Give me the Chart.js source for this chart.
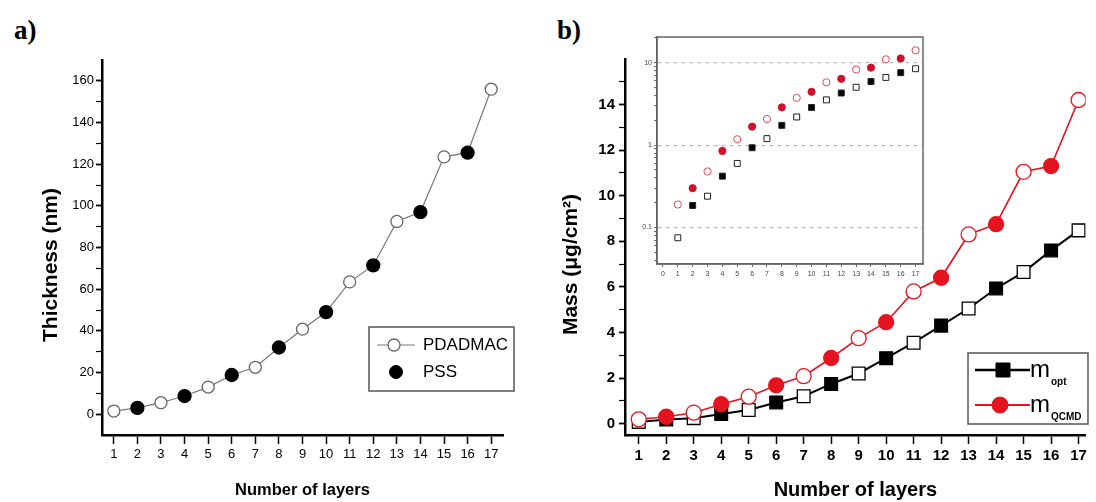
<!DOCTYPE html>
<html>
<head>
<meta charset="utf-8">
<script src="https://cdn.jsdelivr.net/npm/chart.js@4.4.1/dist/chart.umd.min.js"></script>
<style>
  html, body { margin: 0; padding: 0; background: #fff; overflow: hidden; }
  #wrap { position: relative; width: 1096px; height: 502px; }
  canvas { position: absolute; }
  .panel { position: absolute; font: bold 27px "Liberation Serif", "Times New Roman", serif; }
</style>
</head>
<body>
<div id="wrap">
  <div class="panel" style="left:14px; top:15px;">a)</div>
  <div class="panel" style="left:557px; top:15px;">b)</div>
  <canvas id="chartA" width="540" height="502" style="left:0; top:0;"></canvas>
  <canvas id="chartB" width="556" height="502" style="left:540px; top:0;"></canvas>
  <canvas id="chartInset" width="300" height="265" style="left:630px; top:25px;"></canvas>
</div>
<script>
// data
const layers = [1, 2, 3, 4, 5, 6, 7, 8, 9, 10, 11, 12, 13, 14, 15, 16, 17];
const thickness = [1.5, 3, 5.5, 8.7, 13, 18.8, 22.5, 32, 40.8, 49, 63.5, 71.4, 92.5, 97, 123.5, 125.5, 156];
const mOpt = [0.075, 0.185, 0.24, 0.42, 0.6, 0.93, 1.2, 1.74, 2.2, 2.87, 3.55, 4.3, 5.05, 5.93, 6.65, 7.6, 8.48];
const mQcmd = [0.19, 0.3, 0.48, 0.85, 1.18, 1.68, 2.08, 2.88, 3.75, 4.45, 5.8, 6.4, 8.3, 8.75, 11.05, 11.3, 14.2];

// tick values
const thicknessTicks = [0, 10, 20, 30, 40, 50, 60, 70, 80, 90, 100, 110, 120, 130, 140, 150, 160];
const massTicks = [0, 1, 2, 3, 4, 5, 6, 7, 8, 9, 10, 11, 12, 13, 14, 15];
const insetXTicks = [0, 1, 2, 3, 4, 5, 6, 7, 8, 9, 10, 11, 12, 13, 14, 15, 16, 17];
const insetYLabels = [0.1, 1, 10];

const SANS = '"Liberation Sans", Arial, sans-serif';
const RED = '#e5131f';

Chart.defaults.color = '#000';
Chart.defaults.font.family = SANS;

const isOdd = ctx => layers[ctx.dataIndex] % 2 === 1;
const toPoints = values => layers.map((x, i) => ({ x: x, y: values[i] }));

// minor ticks for the log inset: 1..9 x 10^n inside the axis range
const insetYTicks = [];
for (let d = -2; d <= 1; d++) {
  for (let m = 1; m <= 9; m++) {
    const v = +(m * Math.pow(10, d)).toPrecision(2);
    if (v >= 0.04 && v <= 20) insetYTicks.push(v);
  }
}

function drawMarker(ctx, mk, x, y) {
  ctx.save();
  ctx.fillStyle = mk.fill;
  ctx.strokeStyle = mk.stroke;
  ctx.lineWidth = mk.width;
  ctx.beginPath();
  if (mk.style === 'rect') {
    ctx.rect(x - mk.size / 2, y - mk.size / 2, mk.size, mk.size);
  } else {
    ctx.arc(x, y, mk.size / 2, 0, Math.PI * 2);
  }
  ctx.fill();
  ctx.stroke();
  ctx.restore();
}

// framed legend drawn on the canvas
const boxLegend = {
  id: 'boxLegend',
  afterDraw(chart, args, opts) {
    if (!opts.items) return;
    const ctx = chart.ctx;
    const b = opts.box;
    ctx.save();
    ctx.strokeStyle = opts.borderColor;
    ctx.lineWidth = opts.borderWidth;
    ctx.strokeRect(b[0], b[1], b[2], b[3]);
    opts.items.forEach(item => {
      if (item.line) {
        ctx.strokeStyle = item.lineColor;
        ctx.lineWidth = item.lineWidth;
        ctx.beginPath();
        ctx.moveTo(item.line[0], item.y);
        ctx.lineTo(item.line[1], item.y);
        ctx.stroke();
      }
      drawMarker(ctx, item.marker, item.mx, item.y);
      ctx.fillStyle = '#000';
      ctx.font = opts.font;
      ctx.textBaseline = 'middle';
      ctx.textAlign = 'left';
      ctx.fillText(item.text, opts.textX, item.y);
      if (item.sub) {
        const w = ctx.measureText(item.text).width;
        ctx.font = opts.subFont;
        ctx.fillText(item.sub, opts.textX + w + 1, item.y + 12);
      }
    });
    ctx.restore();
  }
};

// full box around the plot area (inset)
const frame = {
  id: 'frame',
  afterDraw(chart, args, opts) {
    if (!opts.color) return;
    const a = chart.chartArea;
    const ctx = chart.ctx;
    ctx.save();
    ctx.strokeStyle = opts.color;
    ctx.lineWidth = opts.width;
    ctx.strokeRect(a.left, a.top, a.right - a.left, a.bottom - a.top);
    ctx.restore();
  }
};

// a) thickness
new Chart(document.getElementById('chartA'), {
  type: 'line',
  data: {
    datasets: [{
      label: 'Thickness',
      data: toPoints(thickness),
      borderColor: '#777',
      borderWidth: 1.2,
      pointRadius: ctx => isOdd(ctx) ? 6 : 6.5,
      pointBackgroundColor: ctx => isOdd(ctx) ? '#fff' : '#000',
      pointBorderColor: ctx => isOdd(ctx) ? '#666' : '#000',
      pointBorderWidth: 1.3
    }]
  },
  options: {
    responsive: false,
    animation: false,
    layout: { padding: { left: 0, top: 60, right: 37, bottom: 0 } },
    plugins: {
      legend: { display: false },
      tooltip: { enabled: false },
      boxLegend: {
        box: [369, 327, 145, 64],
        borderColor: '#555',
        borderWidth: 1.5,
        font: '17px ' + SANS,
        textX: 423,
        items: [
          { text: 'PDADMAC', y: 345, line: [377, 415], lineColor: '#777', lineWidth: 1.2, mx: 394,
            marker: { style: 'circle', size: 12, fill: '#fff', stroke: '#666', width: 1.3 } },
          { text: 'PSS', y: 372, mx: 396,
            marker: { style: 'circle', size: 13, fill: '#000', stroke: '#000', width: 1 } }
        ]
      }
    },
    scales: {
      x: {
        type: 'linear',
        min: 0.5,
        max: 17.5,
        afterBuildTicks: s => { s.ticks = layers.map(v => ({ value: v })); },
        afterFit: s => { s.height = 67; },
        grid: { drawOnChartArea: false, color: '#000', tickLength: 9, tickWidth: 1.5 },
        border: { color: '#000', width: 2.5 },
        ticks: { autoSkip: false, maxRotation: 0, padding: 3, font: { size: 13 } },
        title: { display: true, text: 'Number of layers', padding: 2,
                 font: { size: 16.5, weight: 'bold' } }
      },
      y: {
        type: 'linear',
        min: -10,
        max: 170,
        afterBuildTicks: s => { s.ticks = thicknessTicks.map(v => ({ value: v })); },
        afterFit: s => { s.width = 102; },
        grid: { drawOnChartArea: false, color: '#000', tickLength: 6,
                tickWidth: ctx => ctx.tick && ctx.tick.value % 20 === 0 ? 1.8 : 1.2 },
        border: { color: '#000', width: 2.5 },
        ticks: { autoSkip: false, padding: 2, font: { size: 13 },
                 callback: v => v % 20 === 0 ? String(v) : '' },
        // trailing spaces push the centred title down, as in the original
        title: { display: true, text: 'Thickness (nm)      ', padding: 39,
                 font: { size: 21, weight: 'bold' } }
      }
    }
  },
  plugins: [boxLegend]
});

// b) mass
new Chart(document.getElementById('chartB'), {
  type: 'line',
  data: {
    datasets: [{
      label: 'm_opt',
      order: 1,
      data: toPoints(mOpt),
      borderColor: '#000',
      borderWidth: 2,
      pointStyle: 'rect',
      pointRadius: 9,
      pointBackgroundColor: ctx => isOdd(ctx) ? '#fff' : '#000',
      pointBorderColor: '#000',
      pointBorderWidth: 1.3
    }, {
      label: 'm_QCMD',
      order: 0,
      data: toPoints(mQcmd),
      borderColor: RED,
      borderWidth: 1.6,
      pointStyle: 'circle',
      pointRadius: 7.5,
      pointBackgroundColor: ctx => isOdd(ctx) ? '#fff' : RED,
      pointBorderColor: RED,
      pointBorderWidth: 1.3
    }]
  },
  options: {
    responsive: false,
    animation: false,
    layout: { padding: { left: 0, top: 59, right: 0, bottom: 0 } },
    plugins: {
      legend: { display: false },
      tooltip: { enabled: false },
      boxLegend: {
        box: [428, 353, 120, 71],
        borderColor: '#555',
        borderWidth: 1.5,
        font: '24px ' + SANS,
        subFont: 'bold 10px ' + SANS,
        textX: 490,
        items: [
          { text: 'm', sub: 'opt', y: 370, line: [435, 490], lineColor: '#000', lineWidth: 2.5, mx: 463,
            marker: { style: 'rect', size: 14, fill: '#000', stroke: '#000', width: 1 } },
          { text: 'm', sub: 'QCMD', y: 405, line: [435, 490], lineColor: RED, lineWidth: 1.8, mx: 460,
            marker: { style: 'circle', size: 16, fill: RED, stroke: RED, width: 1 } }
        ]
      }
    },
    scales: {
      x: {
        type: 'linear',
        min: 0.5,
        max: 17.26,
        afterBuildTicks: s => { s.ticks = layers.map(v => ({ value: v })); },
        afterFit: s => { s.height = 67; },
        grid: { drawOnChartArea: false, color: '#000', tickLength: 9, tickWidth: 1.5 },
        border: { color: '#000', width: 2.5 },
        ticks: { autoSkip: false, maxRotation: 0, padding: 3, font: { size: 15, weight: 'bold' } },
        title: { display: true, text: 'Number of layers', padding: 0,
                 font: { size: 20, weight: 'bold' } }
      },
      y: {
        type: 'linear',
        min: -0.5,
        max: 16,
        afterBuildTicks: s => { s.ticks = massTicks.map(v => ({ value: v })); },
        afterFit: s => { s.width = 85; },
        grid: { drawOnChartArea: false, color: '#000', tickLength: 6,
                tickWidth: ctx => ctx.tick && ctx.tick.value % 2 === 0 ? 1.8 : 1.2 },
        border: { color: '#000', width: 2.5 },
        ticks: { autoSkip: false, padding: 4, font: { size: 15, weight: 'bold' },
                 callback: v => v % 2 === 0 ? String(v) : '' },
        title: { display: true, text: 'Mass (\u03bcg/cm\u00b2)      ', padding: 19,
                 font: { size: 21, weight: 'bold' } }
      }
    }
  },
  plugins: [boxLegend]
});

// b) inset, log scale
new Chart(document.getElementById('chartInset'), {
  type: 'line',
  data: {
    datasets: [{
      label: 'm_opt',
      order: 1,
      data: toPoints(mOpt),
      showLine: false,
      pointStyle: 'rect',
      pointRadius: 4.2,
      pointBackgroundColor: ctx => isOdd(ctx) ? '#fff' : '#000',
      pointBorderColor: '#222',
      pointBorderWidth: 1
    }, {
      label: 'm_QCMD',
      order: 0,
      data: toPoints(mQcmd),
      showLine: false,
      pointStyle: 'circle',
      pointRadius: 3.6,
      pointBackgroundColor: ctx => isOdd(ctx) ? '#fff' : '#d0102a',
      pointBorderColor: ctx => isOdd(ctx) ? '#e0485a' : '#d0102a',
      pointBorderWidth: 1
    }]
  },
  options: {
    responsive: false,
    animation: false,
    layout: { padding: { left: 0, top: 12, right: 7, bottom: 0 } },
    plugins: {
      legend: { display: false },
      tooltip: { enabled: false },
      frame: { color: '#666', width: 1.5 }
    },
    scales: {
      x: {
        type: 'linear',
        min: -0.4,
        max: 17.5,
        afterBuildTicks: s => { s.ticks = insetXTicks.map(v => ({ value: v })); },
        afterFit: s => { s.height = 26; },
        grid: { drawOnChartArea: false, color: '#666', tickLength: 3, tickWidth: 1 },
        border: { color: '#666', width: 1.5 },
        ticks: { autoSkip: false, maxRotation: 0, padding: 3, color: '#444', font: { size: 7 } }
      },
      y: {
        type: 'logarithmic',
        min: 0.036,
        max: 20.6,
        afterBuildTicks: s => { s.ticks = insetYTicks.map(v => ({ value: v })); },
        afterFit: s => { s.width = 27; },
        grid: {
          color: ctx => ctx.tick && insetYLabels.includes(ctx.tick.value) ? '#bbb' : 'rgba(0,0,0,0)',
          tickColor: '#666',
          tickLength: 3,
          tickWidth: 1,
          lineWidth: 1.2
        },
        border: { color: '#666', width: 1.5, dash: [4, 4] },
        ticks: { autoSkip: false, padding: 2, color: '#444', font: { size: 7 },
                 callback: v => insetYLabels.includes(v) ? String(v) : '' }
      }
    }
  },
  plugins: [frame]
});
</script>
</body>
</html>
